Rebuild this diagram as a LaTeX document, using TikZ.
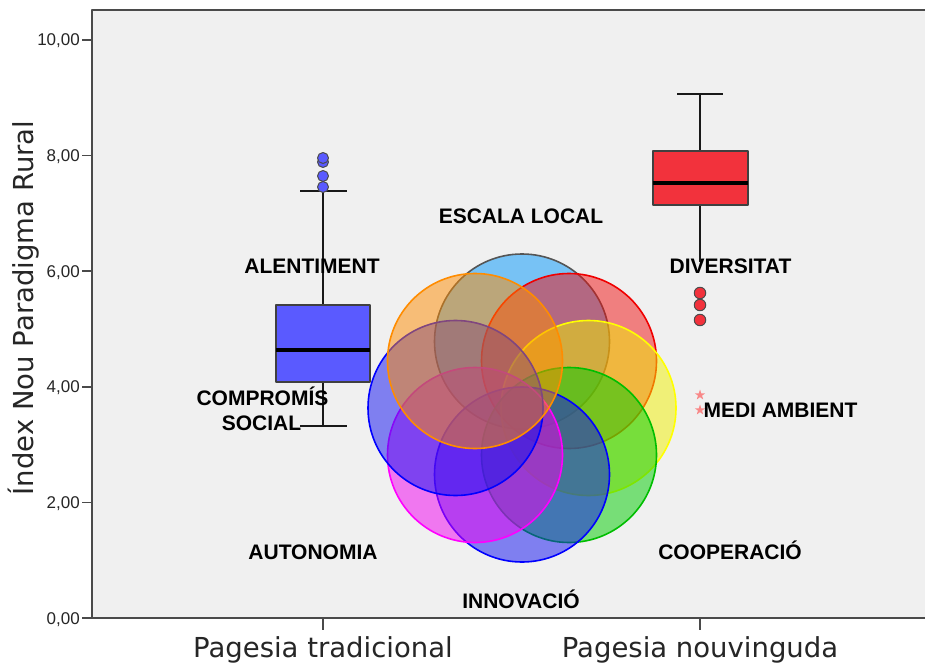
\documentclass[tikz,border=0pt]{standalone}
\usepackage{fontspec}
\setmainfont{Liberation Sans}
\newfontfamily\dvfont{DejaVu Sans}
\usetikzlibrary{shapes.geometric}
\definecolor{plotbg}{HTML}{F0F0F0}
\definecolor{framec}{HTML}{4A4A4A}
\definecolor{boxblue}{RGB}{90,90,255}
\definecolor{boxred}{RGB}{242,50,60}
\definecolor{cLB}{RGB}{0,150,250}
\definecolor{cLBd}{RGB}{85,85,85}
\definecolor{cRed}{RGB}{240,16,16}
\definecolor{cRedd}{RGB}{240,0,0}
\definecolor{cYel}{RGB}{240,240,0}
\definecolor{cYeld}{RGB}{255,255,0}
\definecolor{cGrn}{RGB}{0,205,0}
\definecolor{cGrnd}{RGB}{0,190,0}
\definecolor{cBlu}{RGB}{16,16,240}
\definecolor{cBlud}{RGB}{0,0,255}
\definecolor{cMag}{RGB}{240,0,240}
\definecolor{cMagd}{RGB}{255,0,255}
\definecolor{cOrg}{RGB}{255,140,0}
\definecolor{cOrgd}{RGB}{255,140,0}
\begin{document}
\begin{tikzpicture}[x=1pt,y=-1pt,line join=round,
  lbl/.style={font=\fontsize{21}{24}\selectfont\bfseries, anchor=base, inner sep=0pt},
  ticklbl/.style={font=\fontsize{17}{20}\selectfont, anchor=base east, inner sep=0pt, text=black!85},
  ttl/.style={font=\dvfont\fontsize{27.5}{30}\selectfont, anchor=base, inner sep=0pt, text=black!85},
  venn/.style={line width=1.6pt, fill opacity=0.5},
  whisk/.style={line width=2pt, black!90},
  boxst/.style={draw=black!75, line width=1.5pt},
  medst/.style={line width=3.5pt, black},
  outb/.style={circle, draw=black!70, fill=boxblue, line width=1pt, minimum size=11pt, inner sep=0pt},
  outr/.style={circle, draw=black!70, fill=boxred, line width=1pt, minimum size=11.5pt, inner sep=0pt},
  extr/.style={star, star points=5, star point ratio=2.6, fill=red!80, fill opacity=0.55, draw=none, minimum size=11pt, inner sep=0pt},
]
\fill[white] (0,0) rectangle (925,663);
\useasboundingbox (0,0) rectangle (925,663);
% plot area
\fill[plotbg] (92,10) rectangle (925,618);
\draw[framec, line width=2pt] (925,10) -- (92,10) -- (92,618) -- (925,618);
% y ticks
\foreach \yy/\tl in {40/{10,00},155.6/{8,00},271.2/{6,00},386.8/{4,00},502.4/{2,00},618/{0,00}}{
  \draw[framec, line width=1.5pt] (82,\yy) -- (92,\yy);
  \node[ticklbl] at (80,\yy+6) {\tl};
}
% x ticks
\draw[framec, line width=1.5pt] (323,618) -- (323,630);
\draw[framec, line width=1.5pt] (700,618) -- (700,630);
% axis titles
\node[ttl, rotate=90] (ytitle) at (33,308) {Índex Nou Paradigma Rural};
\node[ttl] (xt1) at (323,657) {Pagesia tradicional};
\node[ttl] (xt2) at (700,657) {Pagesia nouvinguda};
% blue box plot
\draw[whisk] (323,191) -- (323,305);
\draw[whisk] (323,382) -- (323,426);
\draw[whisk] (300,191) -- (347,191);
\draw[whisk] (300,426) -- (347,426);
\draw[boxst, fill=boxblue] (276,305) rectangle (370,382);
\draw[medst] (276,350) -- (370,350);
\node[outb] (ob1) at (323,187) {};
\node[outb] (ob2) at (323,176) {};
\node[outb] (ob3) at (323,162) {};
\node[outb] (ob4) at (323,158) {};
% red box plot
\draw[whisk] (700,94) -- (700,151);
\draw[whisk] (700,205) -- (700,262);
\draw[whisk] (677,94) -- (723,94);
\draw[boxst, fill=boxred] (653,151) rectangle (748,205);
\draw[medst] (653,183) -- (748,183);
\node[outr] (or1) at (700,293) {};
\node[outr] (or2) at (700,305) {};
\node[outr] (or3) at (700,320) {};
\node[extr] (ex1) at (700,395) {};
\node[extr] (ex2) at (700,410) {};
% venn flower
\def\vr{87.5}
\draw[venn, fill=cLB, draw=cLBd] (522,341.5) circle[radius=\vr];
\draw[venn, fill=cRed, draw=cRedd] (569,361) circle[radius=\vr];
\draw[venn, fill=cYel, draw=cYeld] (588.5,408) circle[radius=\vr];
\draw[venn, fill=cGrn, draw=cGrnd] (569,455) circle[radius=\vr];
\draw[venn, fill=cBlu, draw=cBlud] (522,474.5) circle[radius=\vr];
\draw[venn, fill=cMag, draw=cMagd] (475,455) circle[radius=\vr];
\draw[venn, fill=cBlu, draw=cBlud] (455.5,408) circle[radius=\vr];
\draw[venn, fill=cOrg, draw=cOrgd] (475,361) circle[radius=\vr];
% labels
\node[lbl] (escala) at (521,223) {ESCALA LOCAL};
\node[lbl] (alent) at (312,273.5) {ALENTIMENT};
\node[lbl] (divers) at (730.5,273.5) {DIVERSITAT};
\node[lbl] (compr) at (262.5,405) {COMPROMÍS};
\node[lbl] (social) at (261.5,430) {SOCIAL};
\node[lbl] (medi) at (780.5,417) {MEDI AMBIENT};
\node[lbl] (auton) at (313,559) {AUTONOMIA};
\node[lbl] (coop) at (730,559) {COOPERACIÓ};
\node[lbl] (innov) at (521,608) {INNOVACIÓ};
\end{tikzpicture}
\end{document}
